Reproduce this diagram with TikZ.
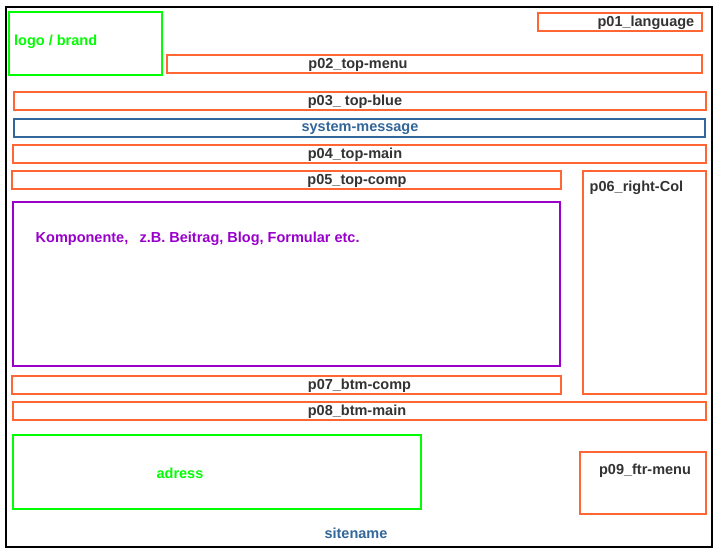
\documentclass[tikz,border=0pt]{standalone}
\usepackage{fontspec}
\setmainfont{Liberation Sans}
\definecolor{orng}{HTML}{FF6633}
\definecolor{sblue}{HTML}{336699}
\definecolor{lgreen}{HTML}{00FF00}
\definecolor{purp}{HTML}{9900CC}
\definecolor{dgray}{HTML}{333333}
\tikzset{
  obox/.style={draw=orng, line width=2pt},
  gbox/.style={draw=lgreen, line width=2pt},
  bbox/.style={draw=sblue, line width=2pt},
  pbox/.style={draw=purp, line width=2pt},
  frame/.style={draw=black, line width=2.5pt},
  lbl/.style={inner sep=0pt, font=\fontsize{14.5}{16}\selectfont\bfseries, text=dgray},
}
\begin{document}
\begin{tikzpicture}[x=1pt,y=-1pt]
\useasboundingbox (0,0) rectangle (717,550);
\fill[white] (0,0) rectangle (717,550);
% outer frame
\draw[frame] (6,7) rectangle (712,547);
% boxes
\draw[gbox] (9,12) rectangle (162,75);
\draw[obox] (538,13) rectangle (702,31);
\draw[obox] (167,55) rectangle (702,73);
\draw[obox] (14,92) rectangle (706,110);
\draw[bbox] (14,119) rectangle (705,137);
\draw[obox] (13,145) rectangle (706,163);
\draw[obox] (12,171) rectangle (561,189);
\draw[obox] (583,171) rectangle (706,394);
\draw[pbox] (13,202) rectangle (560,366);
\draw[obox] (12,376) rectangle (561,394);
\draw[obox] (13,402) rectangle (706,420);
\draw[gbox] (13,435) rectangle (421,509);
\draw[obox] (580,452) rectangle (706,514);
% labels
\node[lbl, text=lgreen, anchor=base west] (logo) at (14,45) {logo / brand};
\node[lbl, anchor=base east] (p01) at (694.5,26.7) {p01\_language};
\node[lbl, anchor=base] (p02) at (358,68.3) {p02\_top-menu};
\node[lbl, anchor=base] (p03) at (355,105) {p03\_ top-blue};
\node[lbl, text=sblue, anchor=base] (sysmsg) at (360,131.7) {system-message};
\node[lbl, anchor=base] (p04) at (355,158.3) {p04\_top-main};
\node[lbl, anchor=base] (p05) at (357,184.3) {p05\_top-comp};
\node[lbl, anchor=base west] (p06) at (589.5,191.7) {p06\_right-Col};
\node[lbl, text=purp, anchor=base west] (komp) at (35.5,242.3) {Komponente,\hspace{0.5em} z.B. Beitrag, Blog, Formular etc.};
\node[lbl, anchor=base] (p07) at (359.5,389.5) {p07\_btm-comp};
\node[lbl, anchor=base] (p08) at (357,415.3) {p08\_btm-main};
\node[lbl, text=lgreen, anchor=base] (adress) at (180,478.5) {adress};
\node[lbl, anchor=base] (p09) at (645,474.3) {p09\_ftr-menu};
\node[lbl, text=sblue, anchor=base] (sitename) at (356,538) {sitename};
\end{tikzpicture}
\end{document}
